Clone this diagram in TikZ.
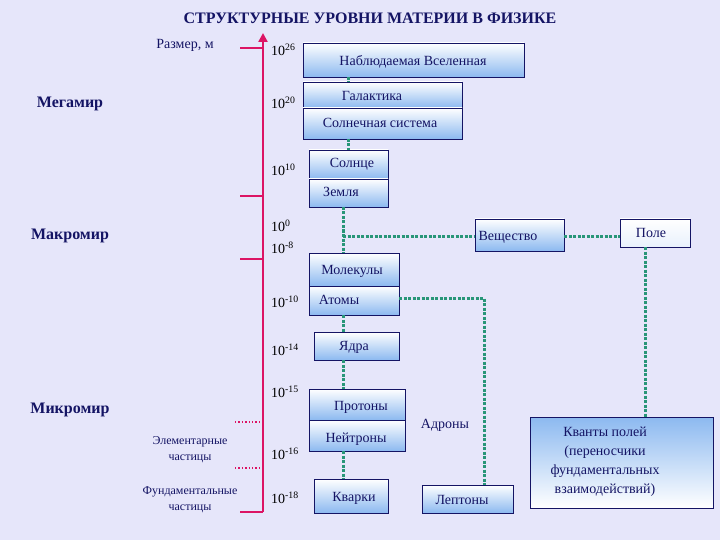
\documentclass[tikz,border=0pt]{standalone}
\usepackage{fontspec}
\setmainfont{Liberation Serif}
\usetikzlibrary{arrows.meta}
\definecolor{bg}{RGB}{230,230,250}
\definecolor{navy}{RGB}{20,20,100}
\definecolor{axis}{RGB}{220,20,100}
\definecolor{lnk}{RGB}{40,150,120}
\definecolor{lb}{RGB}{140,185,240}
\newcommand{\pwr}[2]{#1\textsuperscript{#2}}
\tikzset{
 bx/.style={draw=navy,line width=0.9pt,top color=white,bottom color=lb,text=navy},
 lnkline/.style={lnk,line width=3pt,dash pattern=on 3pt off 1.5pt},
 txt/.style={text=navy,font=\fontsize{14}{16}\selectfont},
 pw/.style={text=black,font=\fontsize{14}{16}\selectfont,anchor=west,inner sep=0pt},
 side/.style={text=navy,font=\bfseries\fontsize{16}{18}\selectfont}
}
\begin{document}
\begin{tikzpicture}[x=1pt,y=-1pt]
\fill[bg] (0,0) rectangle (720,540);
\useasboundingbox (0,0) rectangle (720,540);
\node[font=\bfseries\fontsize{16}{18}\selectfont,text=navy] (title) at (370,18) {СТРУКТУРНЫЕ УРОВНИ МАТЕРИИ В ФИЗИКЕ};
% axis
\coordinate (ab) at (263,512);
\coordinate (at) at (263,33);
\draw[axis,line width=2.6pt,-{Triangle[length=9pt,width=9pt]}] (ab) -- (at);
\draw[axis,line width=1.8pt] (240,512) -- (ab);
\foreach \y in {48,196,259} \draw[axis,line width=1.6pt] (240,\y) -- (263,\y);
\foreach \y in {422,468} \draw[axis,line width=1.4pt,dotted] (235,\y) -- (263,\y);
% left labels
\node[txt] (size) at (185,45) {Размер, м};
\node[side] (mega) at (70,104) {Мегамир};
\node[side] (makro) at (70,236) {Макромир};
\node[side] (mikro) at (70,410) {Микромир};
\node[txt,font=\fontsize{12}{16}\selectfont,align=center] (elem) at (190,450) {Элементарные\\частицы};
\node[txt,font=\fontsize{12}{16}\selectfont,align=center] (fund) at (190,500) {Фундаментальные\\частицы};
% powers
\node[pw] (p26) at (271,50) {\pwr{10}{26}};
\node[pw] (p20) at (271,103) {\pwr{10}{20}};
\node[pw] (p10) at (271,170) {\pwr{10}{10}};
\node[pw] (p0) at (271,226) {\pwr{10}{0}};
\node[pw] (p8) at (271,248) {\pwr{10}{-8}};
\node[pw] (p1010) at (271,302) {\pwr{10}{-10}};
\node[pw] (p14) at (271,350) {\pwr{10}{-14}};
\node[pw] (p15) at (271,392) {\pwr{10}{-15}};
\node[pw] (p16) at (271,454) {\pwr{10}{-16}};
\node[pw] (p18) at (271,498) {\pwr{10}{-18}};
% boxes
\path[bx] (303,43) rectangle (524,77); \node[txt] (univ) at (413,62) {Наблюдаемая Вселенная};
\path[bx] (303,82) rectangle (462,108); \node[txt] (gal) at (372,96) {Галактика};
\path[bx] (303,108) rectangle (462,139); \node[txt] (sol) at (380,123) {Солнечная система};
\path[bx] (309,150) rectangle (388,179); \node[txt] (sun) at (352,164) {Солнце};
\path[bx] (309,179) rectangle (388,207); \node[txt] (earth) at (341,192) {Земля};
\path[bx] (475,219) rectangle (564,251); \node[txt] (vesch) at (508,237) {Вещество};
\path[draw=navy,line width=0.9pt,top color=white,bottom color=white!80!lb] (620,219) rectangle (690,247); \node[txt] (pole) at (651,233) {Поле};
\path[bx] (309,253) rectangle (399,286); \node[txt] (mol) at (352,271) {Молекулы};
\path[bx] (309,286) rectangle (399,315); \node[txt] (atom) at (339,300) {Атомы};
\path[bx] (314,332) rectangle (399,360); \node[txt] (nuc) at (354,347) {Ядра};
\path[bx] (309,389) rectangle (405,420); \node[txt] (prot) at (361,407) {Протоны};
\path[bx] (309,420) rectangle (405,451); \node[txt] (neut) at (356,439) {Нейтроны};
\path[bx] (314,479) rectangle (388,513); \node[txt] (quark) at (354,498) {Кварки};
\path[bx] (422,485) rectangle (513,513); \node[txt] (lept) at (462,500) {Лептоны};
\path[draw=navy,line width=0.9pt,top color=lb,bottom color=white] (530,417) rectangle (713,508);
\node[txt,align=center,font=\fontsize{14}{19}\selectfont] (kv) at (605,462) {Кванты полей\\(переносчики\\фундаментальных\\взаимодействий)};
\node[txt] (adr) at (445,425) {Адроны};
% links
\draw[lnkline] (348,77) -- (348,82);
\draw[lnkline] (348,139) -- (348,150);
\draw[lnkline] (343,207) -- (343,253);
\draw[lnkline] (343,236) -- (475,236);
\draw[lnkline] (564,236) -- (620,236);
\draw[lnkline] (645,247) -- (645,417);
\draw[lnkline] (399,298) -- (484,298) -- (484,485);
\draw[lnkline] (343,315) -- (343,332);
\draw[lnkline] (343,360) -- (343,389);
\draw[lnkline] (343,451) -- (343,479);
\end{tikzpicture}
\end{document}
